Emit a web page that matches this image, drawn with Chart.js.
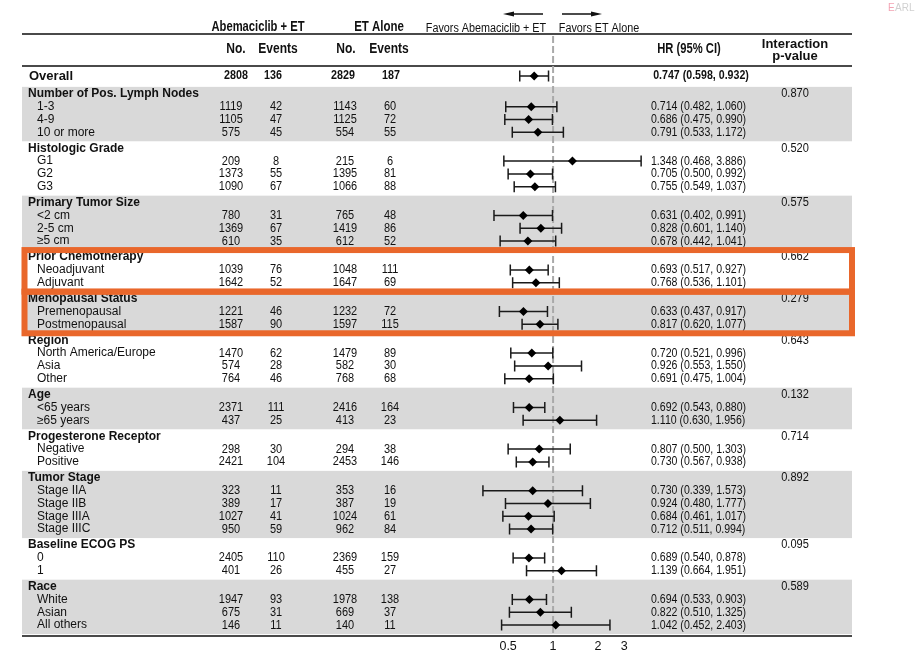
<!DOCTYPE html>
<html>
<head>
<meta charset="utf-8">
<script src="https://cdn.jsdelivr.net/npm/chart.js@4"></script>
<style>
  html, body { margin: 0; padding: 0; background: #fff; }
  canvas { display: block; }
</style>
</head>
<body>
<canvas id="forest" width="917" height="655"></canvas>
<script>
// subgroup headers and their interaction p-values
var groups = ['Number of Pos. Lymph Nodes', 'Histologic Grade', 'Primary Tumor Size', 'Prior Chemotherapy',
  'Menopausal Status', 'Region', 'Age', 'Progesterone Receptor', 'Tumor Stage', 'Baseline ECOG PS', 'Race'];
var groupP = ['0.870', '0.520', '0.575', '0.662', '0.279', '0.643', '0.132', '0.714', '0.892', '0.095', '0.589'];
var boxedGroups = [3, 4];

// one entry per subgroup row
var rowGroup = [0,0,0, 1,1,1, 2,2,2, 3,3, 4,4, 5,5,5, 6,6, 7,7, 8,8,8,8, 9,9, 10,10,10];
var rowLabels = ['1-3', '4-9', '10 or more', 'G1', 'G2', 'G3', '<2 cm', '2-5 cm', '\u22655 cm',
  'Neoadjuvant', 'Adjuvant', 'Premenopausal', 'Postmenopausal', 'North America/Europe', 'Asia', 'Other',
  '<65 years', '\u226565 years', 'Negative', 'Positive', 'Stage IIA', 'Stage IIB', 'Stage IIIA', 'Stage IIIC',
  '0', '1', 'White', 'Asian', 'All others'];
var abeN  = [1119,1105,575, 209,1373,1090, 780,1369,610, 1039,1642, 1221,1587, 1470,574,764, 2371,437, 298,2421, 323,389,1027,950, 2405,401, 1947,675,146];
var abeEv = [42,47,45, 8,55,67, 31,67,35, 76,52, 46,90, 62,28,46, 111,25, 30,104, 11,17,41,59, 110,26, 93,31,11];
var etN   = [1143,1125,554, 215,1395,1066, 765,1419,612, 1048,1647, 1232,1597, 1479,582,768, 2416,413, 294,2453, 353,387,1024,962, 2369,455, 1978,669,140];
var etEv  = [60,72,55, 6,81,88, 48,86,52, 111,69, 72,115, 89,30,68, 164,23, 38,146, 16,19,61,84, 159,27, 138,37,11];
var hr = [0.714,0.686,0.791, 1.348,0.705,0.755, 0.631,0.828,0.678, 0.693,0.768, 0.633,0.817, 0.720,0.926,0.691, 0.692,1.110, 0.807,0.730, 0.730,0.924,0.684,0.712, 0.689,1.139, 0.694,0.822,1.042];
var lo = [0.482,0.475,0.533, 0.468,0.500,0.549, 0.402,0.601,0.442, 0.517,0.536, 0.437,0.620, 0.521,0.553,0.475, 0.543,0.630, 0.500,0.567, 0.339,0.480,0.461,0.511, 0.540,0.664, 0.533,0.510,0.452];
var hi = [1.060,0.990,1.172, 3.886,0.992,1.037, 0.991,1.140,1.041, 0.927,1.101, 0.917,1.077, 0.996,1.550,1.004, 0.880,1.956, 1.303,0.938, 1.573,1.777,1.017,0.994, 0.878,1.951, 0.903,1.325,2.403];

// overall row
var overall = { label: 'Overall', abeN: 2808, abeEv: 136, etN: 2829, etEv: 187, hr: 0.747, lo: 0.598, hi: 0.932 };

var xTicks = [0.5, 1, 2, 3];

// row slots: group header gets a bit of extra room
var headerSlot = [], lastSlot = [], rowSlot = [];
var slot = 1.4;
groups.forEach(function(g, gi) {
    headerSlot[gi] = slot;
    rowGroup.forEach(function(rg, i) {
        if (rg === gi) { slot += 1; rowSlot[i] = slot; }
    });
    lastSlot[gi] = slot;
    slot += 1.25;
});

function fmt(v) { return v.toFixed(3); }
function hrText(h, l, u) { return fmt(h) + ' (' + fmt(l) + ', ' + fmt(u) + ')'; }

function condText(ctx, txt, x, y, font, sx, align) {
    ctx.save();
    ctx.font = font;
    ctx.translate(x, y);
    ctx.scale(sx, 1);
    ctx.textAlign = align;
    ctx.textBaseline = 'middle';
    ctx.fillText(txt, 0, 0);
    ctx.restore();
}

var F = "'Liberation Sans', Arial, sans-serif";
var L = 22, R = 852;   // table edges

var tablePlugin = {
    id: 'table',
    beforeDraw: function(chart) {
        var ctx = chart.ctx, y = chart.scales.y, x = chart.scales.x;
        ctx.save();
        ctx.fillStyle = '#fff';
        ctx.fillRect(0, 0, chart.width, chart.height);
        // gray bands for alternate groups
        ctx.fillStyle = '#d9d9d9';
        groups.forEach(function(g, gi) {
            if (gi % 2) return;
            var t = y.getPixelForValue(headerSlot[gi] - 0.55);
            var b = y.getPixelForValue(lastSlot[gi] + 0.7);
            ctx.fillRect(L, t, R - L, b - t);
        });
        // rules
        ctx.strokeStyle = '#4a4a4a';
        ctx.lineWidth = 2;
        [34, chart.chartArea.top, chart.chartArea.bottom].forEach(function(py) {
            ctx.beginPath(); ctx.moveTo(L, py); ctx.lineTo(R, py); ctx.stroke();
        });
        // reference line at HR = 1
        var x1 = x.getPixelForValue(1);
        ctx.strokeStyle = '#a9a9a9';
        ctx.setLineDash([7, 3]);
        ctx.beginPath(); ctx.moveTo(x1, 36); ctx.lineTo(x1, chart.chartArea.bottom); ctx.stroke();
        ctx.setLineDash([]);
        ctx.restore();
    },
    beforeDatasetsDraw: function(chart) {
        var ctx = chart.ctx, x = chart.scales.x, y = chart.scales.y;
        ctx.save();
        ctx.strokeStyle = '#1a1a1a';
        ctx.lineWidth = 1.5;
        function whisker(l, u, s) {
            var py = y.getPixelForValue(s), a = x.getPixelForValue(l), b = x.getPixelForValue(u);
            ctx.beginPath();
            ctx.moveTo(a, py); ctx.lineTo(b, py);
            ctx.moveTo(a, py - 5.5); ctx.lineTo(a, py + 5.5);
            ctx.moveTo(b, py - 5.5); ctx.lineTo(b, py + 5.5);
            ctx.stroke();
        }
        whisker(overall.lo, overall.hi, 0);
        hr.forEach(function(h, i) { whisker(lo[i], hi[i], rowSlot[i]); });
        ctx.restore();
    },
    afterDraw: function(chart) {
        var ctx = chart.ctx, y = chart.scales.y;
        ctx.save();
        ctx.fillStyle = '#111';

        // column headers
        condText(ctx, 'Abemaciclib + ET', 258, 27, 'bold 14px ' + F, 0.8, 'center');
        condText(ctx, 'ET Alone', 379, 27, 'bold 14px ' + F, 0.82, 'center');
        condText(ctx, 'Favors Abemaciclib + ET', 486, 29, '12px ' + F, 0.9, 'center');
        condText(ctx, 'Favors ET Alone', 599, 29, '12px ' + F, 0.9, 'center');
        condText(ctx, 'No.', 236, 49, 'bold 14px ' + F, 0.86, 'center');
        condText(ctx, 'Events', 278, 49, 'bold 14px ' + F, 0.86, 'center');
        condText(ctx, 'No.', 346, 49, 'bold 14px ' + F, 0.86, 'center');
        condText(ctx, 'Events', 389, 49, 'bold 14px ' + F, 0.86, 'center');
        condText(ctx, 'HR (95% CI)', 689, 49, 'bold 14px ' + F, 0.8, 'center');
        condText(ctx, 'Interaction', 795, 44, 'bold 13px ' + F, 1, 'center');
        condText(ctx, 'p-value', 795, 56, 'bold 13px ' + F, 1, 'center');

        // arrows
        ctx.strokeStyle = '#111';
        ctx.lineWidth = 1.5;
        ctx.beginPath(); ctx.moveTo(510, 14); ctx.lineTo(543, 14); ctx.moveTo(562, 14); ctx.lineTo(595, 14); ctx.stroke();
        ctx.beginPath(); ctx.moveTo(503, 14); ctx.lineTo(514, 11.5); ctx.lineTo(514, 16.5); ctx.closePath(); ctx.fill();
        ctx.beginPath(); ctx.moveTo(602, 14); ctx.lineTo(591, 11.5); ctx.lineTo(591, 16.5); ctx.closePath(); ctx.fill();

        // overall row
        var py = y.getPixelForValue(0);
        condText(ctx, overall.label, 29, py, 'bold 13px ' + F, 1, 'left');
        condText(ctx, String(overall.abeN), 236, py, 'bold 12.5px ' + F, 0.86, 'center');
        condText(ctx, String(overall.abeEv), 273, py, 'bold 12.5px ' + F, 0.86, 'center');
        condText(ctx, String(overall.etN), 343, py, 'bold 12.5px ' + F, 0.86, 'center');
        condText(ctx, String(overall.etEv), 391, py, 'bold 12.5px ' + F, 0.86, 'center');
        condText(ctx, hrText(overall.hr, overall.lo, overall.hi), 701, py, 'bold 12.5px ' + F, 0.85, 'center');

        // group headers and p-values
        groups.forEach(function(g, gi) {
            var gy = y.getPixelForValue(headerSlot[gi]);
            condText(ctx, g, 28, gy, 'bold 12px ' + F, 1, 'left');
            condText(ctx, groupP[gi], 795, gy, '12px ' + F, 0.92, 'center');
        });

        // subgroup rows
        rowLabels.forEach(function(lab, i) {
            var ry = y.getPixelForValue(rowSlot[i]);
            condText(ctx, lab, 37, ry, '12px ' + F, 1, 'left');
            condText(ctx, String(abeN[i]), 231, ry, '12.5px ' + F, 0.88, 'center');
            condText(ctx, String(abeEv[i]), 276, ry, '12.5px ' + F, 0.88, 'center');
            condText(ctx, String(etN[i]), 345, ry, '12.5px ' + F, 0.88, 'center');
            condText(ctx, String(etEv[i]), 390, ry, '12.5px ' + F, 0.88, 'center');
            condText(ctx, hrText(hr[i], lo[i], hi[i]), 651, ry, '12.5px ' + F, 0.845, 'left');
        });

        // orange highlight boxes
        ctx.strokeStyle = '#e9672b';
        ctx.lineWidth = 6;
        boxedGroups.forEach(function(gi) {
            var t = y.getPixelForValue(headerSlot[gi] - 0.55);
            var b = y.getPixelForValue(lastSlot[gi] + 0.7);
            ctx.strokeRect(24.5, t, 852 - 24.5, b - t);
        });

        // faint corner mark
        ctx.font = '10px ' + F;
        ctx.textAlign = 'left';
        ctx.textBaseline = 'middle';
        ctx.fillStyle = '#f2a3b3';
        ctx.fillText('E', 888, 8);
        ctx.fillStyle = '#d0d0d0';
        ctx.fillText('ARL', 895, 8);
        ctx.restore();
    }
};

var points = hr.map(function(h, i) { return { x: h, y: rowSlot[i] }; });
points.push({ x: overall.hr, y: 0 });

var ctx = document.getElementById('forest').getContext('2d');
var forest = new Chart(ctx, {
    type: 'scatter',
    data: {
        datasets: [{
            label: 'HR',
            data: points,
            pointStyle: 'rectRot',
            pointRadius: 4.5,
            backgroundColor: '#000',
            borderColor: '#000',
            borderWidth: 0
        }]
    },
    options: {
        responsive: false,
        animation: false,
        events: [],
        layout: { padding: { left: 475, right: 274, top: 66, bottom: 0 } },
        plugins: { legend: { display: false }, tooltip: { enabled: false } },
        scales: {
            x: {
                type: 'logarithmic',
                min: 0.3,
                max: 4,
                bounds: 'data',
                grid: { display: false, drawTicks: false },
                border: { display: false },
                ticks: {
                    color: '#111',
                    padding: 3,
                    autoSkip: false,
                    maxRotation: 0,
                    font: { family: F, size: 12.5 },
                    callback: function(v) { return String(v); }
                },
                afterBuildTicks: function(s) {
                    s.ticks = xTicks.map(function(v) { return { value: v }; });
                },
                afterFit: function(s) { s.height = 19; }
            },
            y: {
                type: 'linear',
                reverse: true,
                min: -0.78,
                max: 43.75,
                bounds: 'data',
                display: false
            }
        }
    },
    plugins: [tablePlugin]
});
</script>
</body>
</html>
